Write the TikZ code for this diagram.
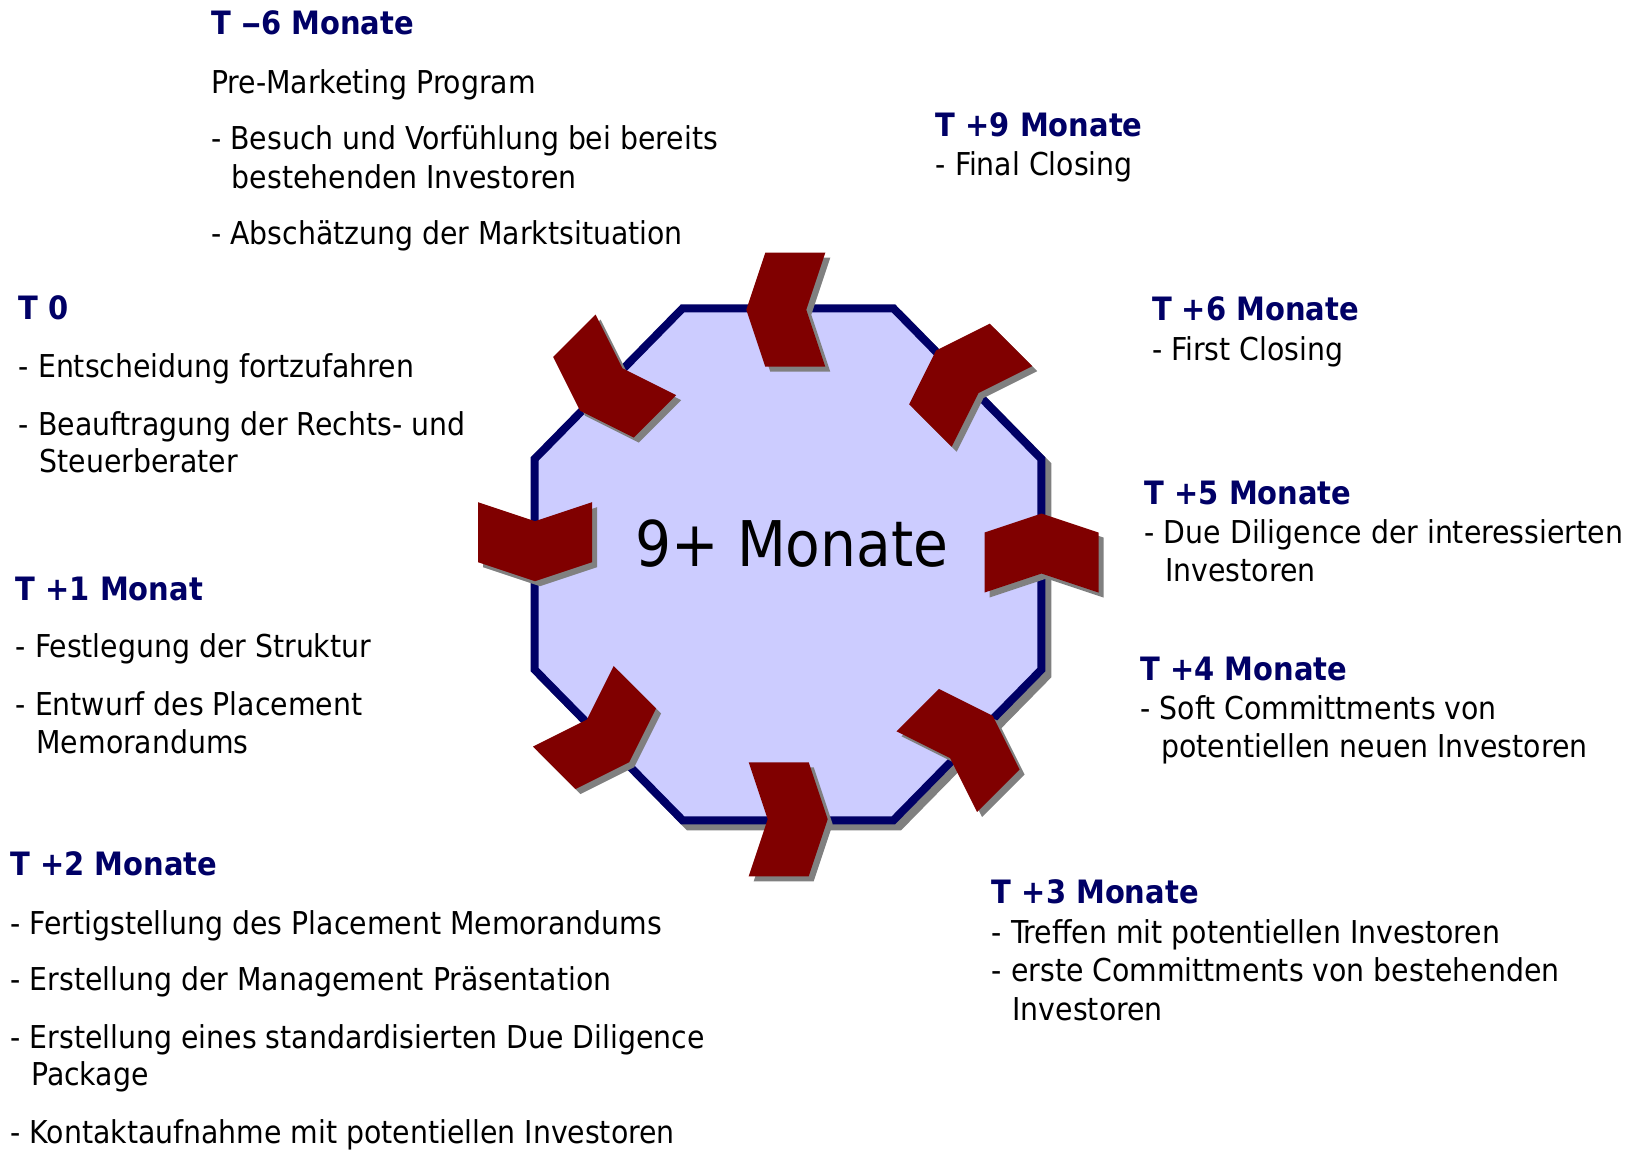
\documentclass[tikz,border=0pt]{standalone}
\usepackage{fontspec}
\setmainfont{DejaVu Sans Condensed}[BoldFont={DejaVu Sans Condensed Bold}]
\definecolor{navy}{HTML}{000066}
\definecolor{lav}{HTML}{CCCCFF}
\definecolor{chevred}{HTML}{800000}
\definecolor{shade}{HTML}{808080}
\definecolor{titleblue}{HTML}{000066}
\begin{document}
\begin{tikzpicture}[x=1pt,y=1pt,
  body/.style={anchor=base west, inner sep=0pt, font=\fontsize{31.5}{37}\selectfont},
  head/.style={anchor=base west, inner sep=0pt, font=\fontsize{32.2}{37}\selectfont\bfseries, text=titleblue},
  chevshape/.style={fill=chevred},
  chevshadow/.style={fill=shade},
]
\useasboundingbox (0,0) rectangle (1630,-1149);

% octagon shadow
\path[fill=shade, draw=shade, line width=8pt, line join=miter, shift={(6,-6)}]
  (682.6,-308.3) -- (893.4,-308.3) -- (1041.3,-458.9) -- (1041.3,-669.7) --
  (893.4,-820.3) -- (682.6,-820.3) -- (534.7,-669.7) -- (534.7,-458.9) -- cycle;
% octagon
\path[fill=lav, draw=navy, line width=8pt, line join=miter]
  (682.6,-308.3) -- (893.4,-308.3) -- (1041.3,-458.9) -- (1041.3,-669.7) --
  (893.4,-820.3) -- (682.6,-820.3) -- (534.7,-669.7) -- (534.7,-458.9) -- cycle;

% chevrons
\foreach \cx/\cy/\a in {785.8/309.7/180, 608/382.8/225, 535/541.7/270, 601.3/734.2/315,
                        788.2/819.3/0, 964.7/743.7/45, 1041.5/553/90, 964/378.5/135} {
  \fill[chevshadow, shift={(\cx+5,-\cy-5)}, rotate=\a]
    (-39.5,57) -- (20.5,57) -- (39.5,0) -- (20.5,-57) -- (-39.5,-57) -- (-20.5,0) -- cycle;
  \fill[chevshape, shift={(\cx,-\cy)}, rotate=\a]
    (-39.5,57) -- (20.5,57) -- (39.5,0) -- (20.5,-57) -- (-39.5,-57) -- (-20.5,0) -- cycle;
}

\node[inner sep=0pt, font=\fontsize{63}{70}\selectfont] (center) at (792,-543.7) {9+ Monate};

% T -6
\node[head] (t6h) at (211,-34.9) {T \scalebox{1.4}[1]{–}6 Monate};
\node[body] (t6a) at (211,-93) {Pre-Marketing Program};
\node[body] (t6b) at (211,-149.2) {- Besuch und Vorfühlung bei bereits};
\node[body] (t6c) at (211,-188.7) {\phantom{-\,\,}bestehenden Investoren};
\node[body] (t6d) at (211,-244.8) {- Abschätzung der Marktsituation};

% T +9
\node[head] (t9h) at (935.6,-136.7) {T +9 Monate};
\node[body] (t9a) at (935.6,-175.2) {- Final Closing};

% T 0
\node[head] (t0h) at (18.7,-319.7) {T 0};
\node[body] (t0a) at (18.7,-377.9) {- Entscheidung fortzufahren};
\node[body] (t0b) at (18.7,-435.1) {- Beauftragung der Rechts- und};
\node[body] (t0c) at (18.7,-472.5) {\phantom{-\,\,}Steuerberater};

% T +6
\node[head] (p6h) at (1151.8,-320.7) {T +6 Monate};
\node[body] (p6a) at (1151.8,-360.2) {- First Closing};

% T +5
\node[head] (p5h) at (1144.5,-504.7) {T +5 Monate};
\node[body] (p5a) at (1144.5,-543.2) {- Due Diligence der interessierten};
\node[body] (p5b) at (1144.5,-581.6) {\phantom{-\,\,}Investoren};

% T +1
\node[head] (p1h) at (15.6,-600.4) {T +1 Monat};
\node[body] (p1a) at (15.6,-657.5) {- Festlegung der Struktur};
\node[body] (p1b) at (15.6,-715.7) {- Entwurf des Placement};
\node[body] (p1c) at (15.6,-753.2) {\phantom{-\,\,}Memorandums};

% T +4
\node[head] (p4h) at (1140.3,-680.4) {T +4 Monate};
\node[body] (p4a) at (1140.3,-719.9) {- Soft Committments von};
\node[body] (p4b) at (1140.3,-757.3) {\phantom{-\,\,}potentiellen neuen Investoren};

% T +2
\node[head] (p2h) at (10.4,-875.8) {T +2 Monate};
\node[body] (p2a) at (10.4,-934) {- Fertigstellung des Placement Memorandums};
\node[body] (p2b) at (10.4,-990.2) {- Erstellung der Management Präsentation};
\node[body] (p2c) at (10.4,-1048.4) {- Erstellung eines standardisierten Due Diligence};
\node[body] (p2d) at (10.4,-1085.8) {\phantom{-\,\,}Package};
\node[body] (p2e) at (10.4,-1143) {- Kontaktaufnahme mit potentiellen Investoren};

% T +3
\node[head] (p3h) at (991.7,-903.9) {T +3 Monate};
\node[body] (p3a) at (991.7,-943.4) {- Treffen mit potentiellen Investoren};
\node[body] (p3b) at (991.7,-981.9) {- erste Committments von bestehenden};
\node[body] (p3c) at (991.7,-1020.3) {\phantom{-\,\,}Investoren};
\end{tikzpicture}
\end{document}
